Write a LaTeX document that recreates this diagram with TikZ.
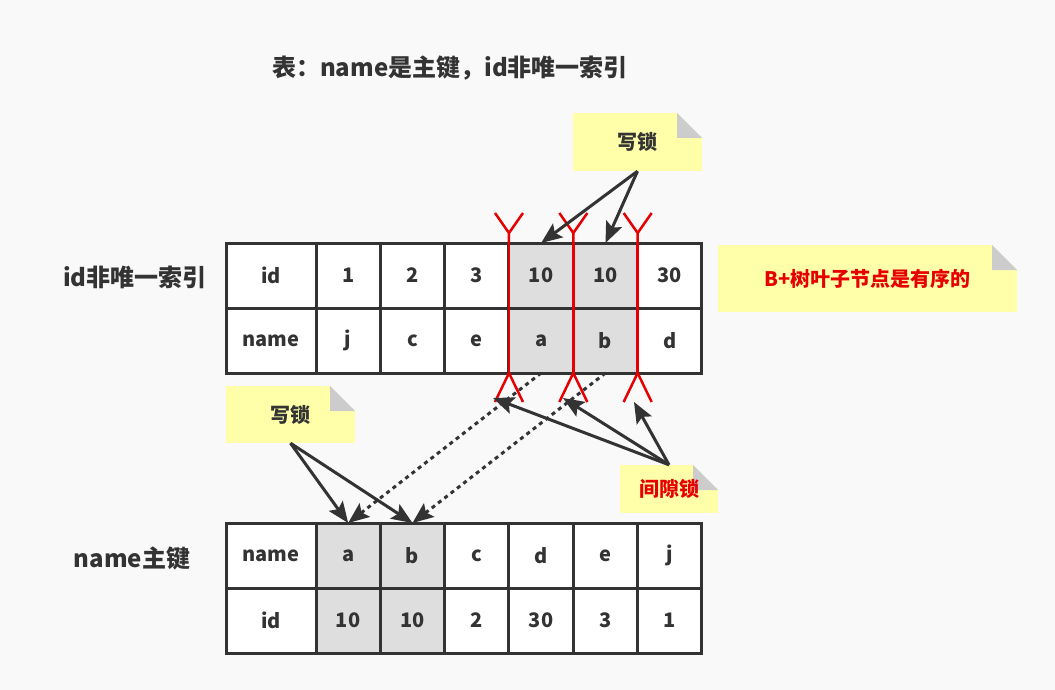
\documentclass[tikz,border=0pt]{standalone}
\usepackage{fontspec}
\setmainfont{Noto Sans CJK SC}
\usetikzlibrary{arrows.meta}
\definecolor{bgColor}{HTML}{F9F9F9}
\definecolor{penColor}{HTML}{333333}
\definecolor{lockRed}{HTML}{E60000}
\definecolor{noteColor}{HTML}{FFFFAA}
\definecolor{foldColor}{HTML}{CCCCCC}
\definecolor{hitColor}{HTML}{DEDEDE}
\tikzset{>={Stealth[length=21pt,width=17pt,inset=4pt]}}
\tikzset{
  cell/.style={draw=penColor,line width=3pt,fill=white,minimum height=65pt,
    inner sep=0pt,outer sep=0pt,text=penColor,font=\fontsize{20}{24}\selectfont\bfseries},
  hit/.style={cell,fill=hitColor},
  note/.style={fill=noteColor,inner sep=0pt,text=penColor,font=\fontsize{20}{24}\selectfont\bfseries,
    path picture={
      \fill[bgColor] ([xshift=-25pt]path picture bounding box.north east)
        -- (path picture bounding box.north east)
        -- ([yshift=-25pt]path picture bounding box.north east) -- cycle;
      \fill[foldColor] ([xshift=-25pt]path picture bounding box.north east)
        -- ([yshift=-25pt]path picture bounding box.north east)
        -- ([xshift=-25pt,yshift=-25pt]path picture bounding box.north east) -- cycle;}},
  label/.style={text=penColor,font=\fontsize{24}{28}\selectfont\bfseries},
  link/.style={draw=penColor,line width=3pt,->},
  copyline/.style={link,dash pattern=on 4pt off 4pt},
  gapline/.style={draw=lockRed,line width=2.5pt},
}
\begin{document}
\begin{tikzpicture}[x=1pt,y=-1pt]
\fill[bgColor] (0,0) rectangle (1055,690);

\node[label] (title) at (450,68) {表：name是主键，id非唯一索引};

% id non-unique index
\node[label] (idLabel) at (135,277) {id非唯一索引};
\node[cell,minimum width=90pt] (u-1-1) at (271,275.5) {id};
\node[cell,minimum width=90pt] (u-2-1) at (271,340.5) {name};
\foreach \v/\s [count=\i from 2] in {1/cell,2/cell,3/cell,10/hit,10/hit,30/cell}
  \node[\s,minimum width=64.33pt] (u-1-\i) at ({316+64.33*(\i-1.5)},275.5) {\v};
\foreach \v/\s [count=\i from 2] in {j/cell,c/cell,e/cell,a/hit,b/hit,d/cell}
  \node[\s,minimum width=64.33pt] (u-2-\i) at ({316+64.33*(\i-1.5)},340.5) {\v};

% name primary key
\node[label] (nameLabel) at (132,558) {name主键};
\node[cell,minimum width=90pt] (l-1-1) at (271,555.5) {name};
\node[cell,minimum width=90pt] (l-2-1) at (271,620.5) {id};
\foreach \v/\s [count=\i from 2] in {a/hit,b/hit,c/cell,d/cell,e/cell,j/cell}
  \node[\s,minimum width=64.33pt] (l-1-\i) at ({316+64.33*(\i-1.5)},555.5) {\v};
\foreach \v/\s [count=\i from 2] in {10/hit,10/hit,2/cell,30/cell,3/cell,1/cell}
  \node[\s,minimum width=64.33pt] (l-2-\i) at ({316+64.33*(\i-1.5)},620.5) {\v};

% gaps
\foreach \i in {5,6,7}{
  \draw[gapline] (u-1-\i.north west) -- (u-2-\i.south west);
  \draw[gapline] (u-1-\i.north west) -- ++(0,-10) -- ++(-14,-20) ++(14,20) -- ++(14,-20);
  \draw[gapline] (u-2-\i.south west) ++(-14,29) -- ++(14,-29) -- ++(14,29);
}

% notes
\node[note,minimum width=129pt,minimum height=58pt] (wUp) at (637.5,142) {写锁};
\node[note,minimum width=299pt,minimum height=67pt,text=lockRed] (order) at (867.5,278.5) {B+树叶子节点是有序的};
\node[note,minimum width=129pt,minimum height=57pt] (wDown) at (290.5,414.5) {写锁};
\node[note,minimum width=98pt,minimum height=48pt,text=lockRed] (gap) at (669,489) {间隙锁};

\coordinate (g1) at (493,398);
\coordinate (g2) at (563,398);
\coordinate (g3) at (634,402);

\draw[link] (wUp.south) -- (u-1-5.north);
\draw[link] (wUp.south) -- (u-1-6.north);
\draw[link] (wDown.south) -- (l-1-2.north);
\draw[link] (wDown.south) -- (l-1-3.north);
\draw[copyline] (u-2-5.south) -- (l-1-2.north);
\draw[copyline] (u-2-6.south) -- (l-1-3.north);
\foreach \g in {g1,g2,g3}
  \draw[link] (gap.north) -- (\g);
\end{tikzpicture}
\end{document}
